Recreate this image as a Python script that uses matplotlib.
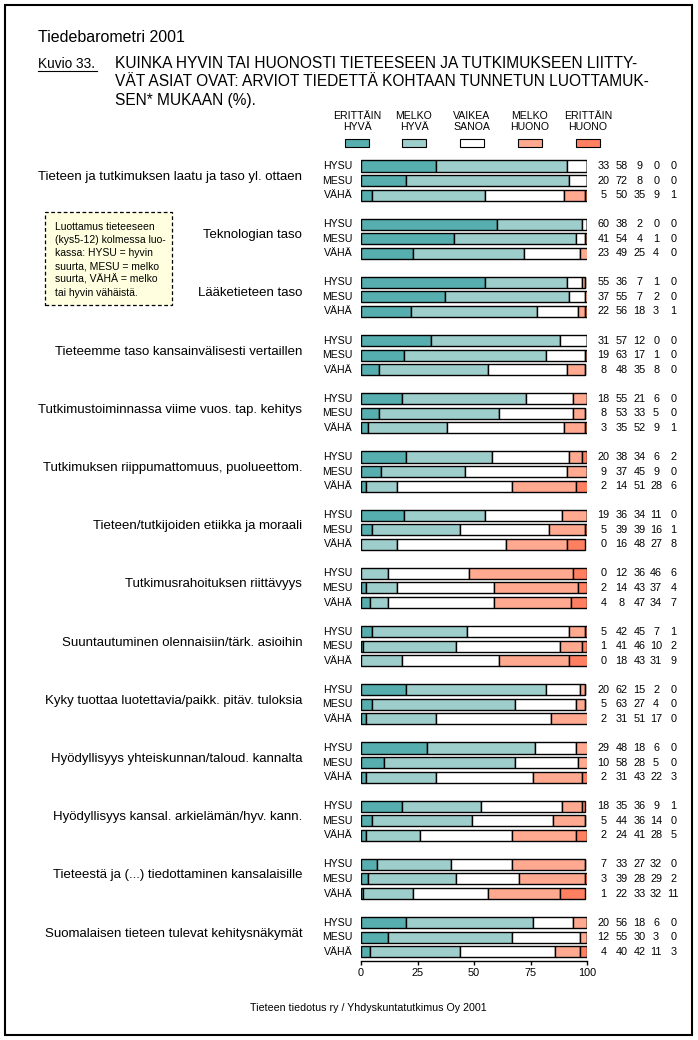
import matplotlib
matplotlib.use("Agg")
import matplotlib.pyplot as plt
from matplotlib.patches import Rectangle
import numpy as np

plt.rcParams['font.family'] = ['Liberation Sans', 'DejaVu Sans']

categories = [
    "Tieteen ja tutkimuksen laatu ja taso yl. ottaen",
    "Teknologian taso",
    "Lääketieteen taso",
    "Tieteemme taso kansainvälisesti vertaillen",
    "Tutkimustoiminnassa viime vuos. tap. kehitys",
    "Tutkimuksen riippumattomuus, puolueettom.",
    "Tieteen/tutkijoiden etiikka ja moraali",
    "Tutkimusrahoituksen riittävyys",
    "Suuntautuminen olennaisiin/tärk. asioihin",
    "Kyky tuottaa luotettavia/paikk. pitäv. tuloksia",
    "Hyödyllisyys yhteiskunnan/taloud. kannalta",
    "Hyödyllisyys kansal. arkielämän/hyv. kann.",
    "Tieteestä ja (...) tiedottaminen kansalaisille",
    "Suomalaisen tieteen tulevat kehitysnäkymät",
]
groups = ["HYSU", "MESU", "VÄHÄ"]
series_names = ["ERITTÄIN\nHYVÄ", "MELKO\nHYVÄ", "VAIKEA\nSANOA", "MELKO\nHUONO", "ERITTÄIN\nHUONO"]

# values per category: rows HYSU, MESU, VÄHÄ
erittain_hyva = [33, 20, 5, 60, 41, 23, 55, 37, 22, 31, 19, 8, 18, 8, 3, 20, 9, 2, 19, 5, 0,
                 0, 2, 4, 5, 1, 0, 20, 5, 2, 29, 10, 2, 18, 5, 2, 7, 3, 1, 20, 12, 4]
melko_hyva = [58, 72, 50, 38, 54, 49, 36, 55, 56, 57, 63, 48, 55, 53, 35, 38, 37, 14, 36, 39, 16,
              12, 14, 8, 42, 41, 18, 62, 63, 31, 48, 58, 31, 35, 44, 24, 33, 39, 22, 56, 55, 40]
vaikea_sanoa = [9, 8, 35, 2, 4, 25, 7, 7, 18, 12, 17, 35, 21, 33, 52, 34, 45, 51, 34, 39, 48,
                36, 43, 47, 45, 46, 43, 15, 27, 51, 18, 28, 43, 36, 36, 41, 27, 28, 33, 18, 30, 42]
melko_huono = [0, 0, 9, 0, 1, 4, 1, 2, 3, 0, 1, 8, 6, 5, 9, 6, 9, 28, 11, 16, 27,
               46, 37, 34, 7, 10, 31, 2, 4, 17, 6, 5, 22, 9, 14, 28, 32, 29, 32, 6, 3, 11]
erittain_huono = [0, 0, 1, 0, 0, 0, 0, 0, 1, 0, 0, 0, 0, 0, 1, 2, 0, 6, 0, 1, 8,
                  6, 4, 7, 1, 2, 9, 0, 0, 0, 0, 0, 3, 1, 0, 5, 0, 2, 11, 0, 0, 3]

colors = ["#56AEAE", "#9DCECB", "#FFFFFF", "#FFAA90", "#FF8060"]

W, H = 698, 1040
fig = plt.figure(figsize=(W / 100, H / 100), dpi=100)

def fx(px):
    return px / W

def fy(py):
    return 1 - py / H

# Outer frame
fig.patches.append(Rectangle((fx(5), fy(1035)), fx(687), 1030 / H, transform=fig.transFigure,
                             fill=False, edgecolor='black', linewidth=1.5))

# Axes: x 0..100 -> px 361..587; row y -> px 166 + y*14.55
row_px = 14.55
y_top = -0.75
y_bot = (961 - 166) / row_px
ax_top_px = 166 + y_top * row_px
ax = fig.add_axes([fx(361), fy(961), fx(587 - 361), (961 - ax_top_px) / H])
ax.set_xlim(0, 100)
ax.set_ylim(y_bot, y_top)

series = [erittain_hyva, melko_hyva, vaikea_sanoa, melko_huono, erittain_huono]
n_rows = len(erittain_hyva)
ypos = np.array([(i // 3) * 4 + (i % 3) for i in range(n_rows)], dtype=float)
left = np.zeros(n_rows)
for vals, c in zip(series, colors):
    v = np.array(vals, dtype=float)
    ax.barh(ypos, v, left=left, height=0.76, color=c, edgecolor='black', linewidth=1.0)
    left += v

# row labels and numbers
num_x = [107.3, 115.3, 123.2, 130.6, 138.2]
for i in range(n_rows):
    ax.text(-3.8, ypos[i], groups[i % 3], ha='right', va='center', fontsize=7.6, clip_on=False)
    for j, vals in enumerate(series):
        ax.text(num_x[j], ypos[i], str(vals[i]), ha='center', va='center', fontsize=7.8,
                clip_on=False)

# category labels
for g, cat in enumerate(categories):
    ax.text(-26.0, g * 4 + 0.75, cat, ha='right', va='center', fontsize=9.5, clip_on=False)

for s in ['top', 'right', 'left']:
    ax.spines[s].set_visible(False)
ax.spines['bottom'].set_linewidth(1.0)
ax.set_yticks([])
ax.set_xticks([0, 25, 50, 75, 100])
ax.tick_params(axis='x', direction='out', length=3, width=1, labelsize=7.8, pad=2)

# Titles
fig.text(fx(38), fy(38), "Tiedebarometri 2001", fontsize=11.5, ha='left', va='center')
fig.text(fx(38), fy(64), "Kuvio 33.", fontsize=9.8, ha='left', va='center')
fig.add_artist(plt.Line2D([fx(38), fx(97)], [fy(71), fy(71)], color='black', linewidth=0.8))
title_lines = ["KUINKA HYVIN TAI HUONOSTI TIETEESEEN JA TUTKIMUKSEEN LIITTY-",
               "VÄT ASIAT OVAT: ARVIOT TIEDETTÄ KOHTAAN TUNNETUN LUOTTAMUK-",
               "SEN* MUKAAN (%)."]
for k, line in enumerate(title_lines):
    fig.text(fx(115), fy(64 + 18 * k), line, fontsize=11.2, ha='left', va='center')

# Legend
leg_cx = [357, 414, 472, 530, 588]
for name, c, cx in zip(series_names, colors, leg_cx):
    fig.text(fx(cx), fy(121.5), name, fontsize=7.6, ha='center', va='center', linespacing=1.15)
    fig.patches.append(Rectangle((fx(cx - 12), fy(147)), fx(24), 8 / H, transform=fig.transFigure,
                                 facecolor=c, edgecolor='black', linewidth=0.8))

# Note box
fig.patches.append(Rectangle((fx(45), fy(305)), fx(127), 93 / H, transform=fig.transFigure,
                             facecolor='#FFFFE0', edgecolor='black', linewidth=0.9,
                             linestyle=(0, (3, 2))))
note_lines = ["Luottamus tieteeseen", "(kys5-12) kolmessa luo-", "kassa: HYSU = hyvin",
              "suurta, MESU = melko", "suurta, VÄHÄ = melko", "tai hyvin vähäistä."]
for k, line in enumerate(note_lines):
    fig.text(fx(55), fy(227 + 13.2 * k), line, fontsize=7.5, ha='left', va='center')

# Footer
fig.text(fx(368), fy(1008), "Tieteen tiedotus ry / Yhdyskuntatutkimus Oy 2001", fontsize=7.7,
         ha='center', va='center')

fig.savefig("out.png", dpi=100)
